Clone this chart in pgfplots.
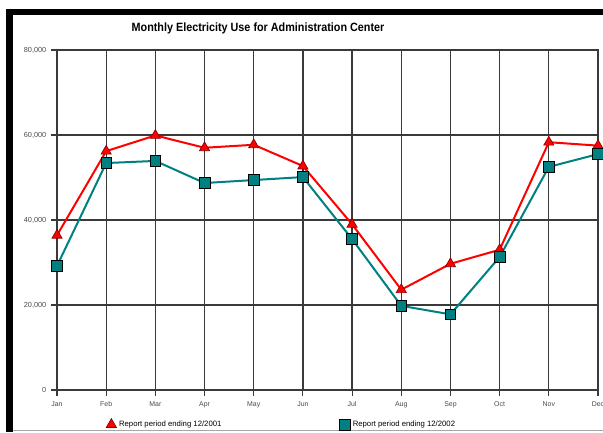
\documentclass[border=0pt]{standalone}
\usepackage{fontspec}
\setmainfont{Liberation Sans}
\usepackage{graphicx}
\usepackage{pgfplots}
\pgfplotsset{compat=1.18}

\definecolor{gridgray}{HTML}{3A3A3A}
\definecolor{ticktext}{HTML}{4A4A4A}
\definecolor{seriesA}{HTML}{FF0000}
\definecolor{seriesAedge}{HTML}{8A0000}
\definecolor{seriesB}{HTML}{008080}

\begin{document}
\begin{tikzpicture}
% outer frame: heavy left and top edges, faint bottom rule
\begin{scope}[x=0.75pt,y=0.75pt]
  \fill[black] (6,0) rectangle (13,423);
  \fill[black] (6,417) rectangle (603,423);
  \draw[black!35, line width=0.75pt] (13,1.5) -- (603,1.5);
\end{scope}

\begin{axis}[
  at={(42.75pt,31.5pt)}, anchor=south west,
  scale only axis, width=405.75pt, height=255pt,
  xmin=0, xmax=11, ymin=0, ymax=80000,
  clip=false,
  scaled y ticks=false,
  xtick={0,...,11},
  xticklabels={Jan,Feb,Mar,Apr,May,Jun,Jul,Aug,Sep,Oct,Nov,Dec},
  ytick={0,20000,40000,60000,80000},
  yticklabels={0,{20,000},{40,000},{60,000},{80,000}},
  xtick pos=bottom, ytick pos=left,
  tick align=outside, major tick length=4.5pt,
  tick style={gridgray, line width=0.8pt},
  grid=major,
  major grid style={gridgray, line width=0.9pt},
  axis line style={gridgray, line width=0.9pt},
  xticklabel style={font=\fontsize{5.2}{6}\selectfont, text=ticktext,
    text height=4pt, text depth=1.2pt, yshift=-0.5pt},
  yticklabel style={font=\fontsize{5.5}{6}\selectfont, text=ticktext},
  legend columns=2,
  legend style={at={(0.0906,-0.1015)}, anchor=west, draw=none, fill=none,
    inner sep=0pt, font=\fontsize{5.8}{7}\selectfont,
    /tikz/every even column/.append style={column sep=86.5pt}},
  legend image code/.code={\draw[#1] plot coordinates {(0pt,0pt)};},
]
\addplot[seriesA, line width=1.5pt, mark=triangle*, mark size=4.4pt,
  mark options={fill=seriesA, draw=seriesAedge, line width=0.5pt}]
  coordinates {
  (0,36400) (1,56200) (2,59900) (3,57000) (4,57700) (5,52700)
  (6,39000) (7,23600) (8,29700) (9,33000) (10,58300) (11,57500)};
\addlegendentry{Report period ending 12/2001}
\addplot[seriesB, line width=1.5pt, mark=square*, mark size=4pt,
  mark options={fill=seriesB, draw=black, line width=0.5pt}]
  coordinates {
  (0,29200) (1,53400) (2,53900) (3,48700) (4,49400) (5,50100)
  (6,35500) (7,19800) (8,17800) (9,31300) (10,52500) (11,55500)};
\addlegendentry{Report period ending 12/2002}
\end{axis}

\node[font=\bfseries\fontsize{9}{11}\selectfont] at (193.5pt,303pt)
  {\scalebox{0.9}[1]{Monthly Electricity Use for Administration Center}};

\pgfresetboundingbox
\path[use as bounding box] (0,0) rectangle (452.25pt,324pt);
\end{tikzpicture}
\end{document}
